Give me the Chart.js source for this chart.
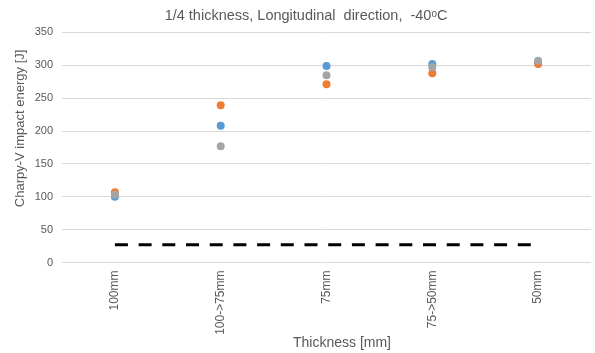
<!DOCTYPE html>
<html>
<head>
<meta charset="utf-8">
<script src="https://cdn.jsdelivr.net/npm/chart.js@4.4.1/dist/chart.umd.min.js"></script>
<style>
  html, body { margin: 0; padding: 0; background: #ffffff; }
  #wrap { width: 595px; height: 353px; }
</style>
</head>
<body>
<div id="wrap"><canvas id="myChart" width="595" height="353"></canvas></div>
<script>
const thickness = ["100mm", "100->75mm", "75mm", "75->50mm", "50mm"];
const specimen1 = [100, 208, 299, 302, 305];
const specimen2 = [107, 239, 271, 288, 302];
const specimen3 = [103, 177, 285, 297, 307];
const requirement = [27, 27, 27, 27, 27];
const yTicks = [0, 50, 100, 150, 200, 250, 300, 350];

const titleText = "1/4 thickness, Longitudinal  direction,  -40\u1D52C";
const xTitle = "Thickness [mm]";
const yTitle = "Charpy-V impact energy [J]";

const FONT = "'Liberation Sans', Arial, sans-serif";
const TEXT = "#595959";

// axis titles sit a bit off-centre in the original, so draw them by hand
const axisTitles = {
  id: "axisTitles",
  afterDraw(chart) {
    const { ctx, chartArea } = chart;
    ctx.save();
    ctx.fillStyle = TEXT;
    ctx.textAlign = "center";
    ctx.textBaseline = "middle";
    ctx.font = "14px " + FONT;
    ctx.fillText(xTitle, chartArea.left + 280, chartArea.bottom + 81);
    ctx.font = "13px " + FONT;
    ctx.translate(20, chartArea.top + 96);
    ctx.rotate(-Math.PI / 2);
    ctx.fillText(yTitle, 0, 0);
    ctx.restore();
  },
};

const dot = (label, data, color, order) => ({
  label: label,
  data: data,
  showLine: false,
  backgroundColor: color,
  borderColor: color,
  pointRadius: 4,
  pointBorderWidth: 0,
  pointHoverRadius: 4,
  order: order,
});

const data = {
  labels: thickness,
  datasets: [
    dot("1", specimen1, "#5B9BD5", 3),
    dot("2", specimen2, "#ED7D31", 2),
    dot("3", specimen3, "#A5A5A5", 1),
    {
      label: "27 J",
      data: requirement,
      borderColor: "#000000",
      borderWidth: 3,
      borderDash: [13, 10.7],
      borderCapStyle: "butt",
      pointRadius: 0,
      fill: false,
      order: 4,
    },
  ],
};

const config = {
  type: "line",
  data: data,
  options: {
    responsive: false,
    animation: false,
    layout: { padding: { left: 19, right: 2, top: 0, bottom: 0 } },
    plugins: {
      legend: { display: false },
      tooltip: { enabled: false },
      title: {
        display: true,
        text: titleText,
        color: TEXT,
        font: { family: FONT, size: 14.5, weight: "normal" },
        padding: { top: 7, bottom: 8 },
      },
    },
    scales: {
      x: {
        offset: true,
        grid: { display: false },
        border: { display: false },
        ticks: {
          color: TEXT,
          font: { family: FONT, size: 12 },
          minRotation: 90,
          maxRotation: 90,
          padding: 0,
        },
        afterFit: (scale) => {
          scale.height = 90.5;
        },
      },
      y: {
        min: 0,
        max: 350,
        afterBuildTicks: (scale) => {
          scale.ticks = yTicks.map((v) => ({ value: v }));
        },
        grid: { color: "#D9D9D9", lineWidth: 1, drawTicks: false },
        border: { display: false },
        ticks: {
          color: TEXT,
          font: { family: FONT, size: 11 },
          padding: 9,
        },
        afterFit: (scale) => {
          scale.width = 43;
        },
      },
    },
  },
  plugins: [axisTitles],
};

const ctx = document.getElementById("myChart").getContext("2d");
new Chart(ctx, config);
</script>
</body>
</html>
